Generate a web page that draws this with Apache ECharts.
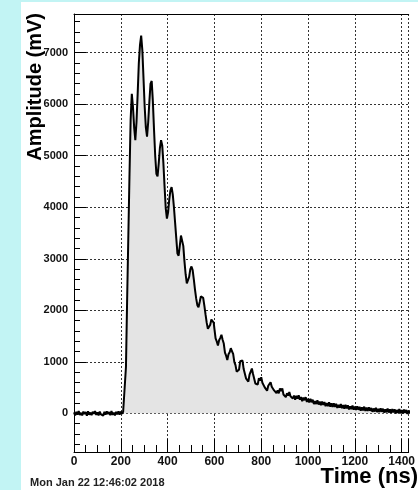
<!DOCTYPE html>
<html>
<head>
    <meta charset="utf-8">
    <title>Amplitude vs Time</title>
    <script type="text/javascript" src="https://cdn.jsdelivr.net/npm/echarts@6/dist/echarts.min.js"></script>
</head>
<style type="text/css">
    html, body {
        margin: 0;
        padding: 0;
        background: #c2f4f4;
    }
    #paper {
        position: absolute;
        left: 21px;
        top: 2px;
        width: 397px;
        height: 488px;
        background: #fff;
    }
    #chart {
        position: absolute;
        left: 0;
        top: 0;
        width: 418px;
        height: 490px;
    }
</style>
<body>
    <div id="paper"></div>
    <div id="chart"></div>

    <script type="text/javascript">
        // sample spacing in ns
        var sampleStep = 5;

        // flat noisy baseline before the pulse, 0..210 ns
        var baselineStart = 0;
        var baselineValues = [
            20, -40, 30, -25, 45, -30, 10, -40, 35, -15,
            25, -45, 40, -25, 15, -35, 30, -10, 45, -30,
            20, -40, 35, -20, 10, -45, 30, -25, 40, -15,
            25, -35, 45, -30, 15, -40, 30, -20, 40, -25,
            35, -10, 30
        ];

        // rise and ringing peaks, 217..597 ns
        var pulseStart = 217;
        var pulseValues = [
            60, 900, 2200, 3400, 4600, 5700, 6200, 5950, 5550, 5300,
            5650, 6200, 6800, 7150, 7330, 7050, 6500, 5950, 5550, 5370,
            5650, 6050, 6400, 6450, 6050, 5500, 5000, 4650, 4600, 4850,
            5150, 5300, 5200, 4850, 4400, 3980, 3780, 3900, 4150, 4330,
            4390, 4250, 4000, 3700, 3400, 3100, 3060, 3250, 3450, 3460,
            3250, 2950, 2700, 2520, 2500, 2650, 2800, 2850, 2780, 2600,
            2400, 2230, 2100, 2060, 2160, 2270, 2300, 2240, 2090, 1920,
            1760, 1640, 1620, 1720, 1820, 1840, 1760
        ];

        // decaying noisy tail, 600..1500 ns
        var tailStart = 600;
        var tailValues = [
            1640, 1455, 1395, 1315, 1420, 1465, 1525, 1430, 1355, 1180,
            1120, 1035, 1145, 1185, 1265, 1205, 1155, 1000, 935, 810,
            840, 845, 1010, 995, 1025, 860, 825, 680, 705, 615,
            750, 765, 870, 765, 745, 580, 585, 560, 685, 635,
            700, 595, 620, 505, 525, 440, 535, 510, 605, 515,
            550, 445, 480, 395, 445, 390, 485, 430, 485, 365,
            400, 315, 390, 345, 415, 330, 365, 290, 345, 265,
            340, 285, 350, 265, 315, 235, 305, 255, 315, 220,
            280, 210, 280, 215, 265, 180, 240, 180, 255, 170,
            230, 160, 230, 165, 220, 140, 200, 140, 215, 130,
            195, 125, 195, 125, 185, 105, 165, 110, 180, 100,
            160, 90, 165, 95, 155, 75, 135, 80, 150, 70,
            130, 65, 135, 70, 125, 50, 115, 55, 130, 45,
            110, 45, 115, 50, 105, 30, 95, 35, 110, 25,
            90, 25, 100, 30, 90, 15, 80, 20, 95, 15,
            80, 10, 85, 20, 80, 0, 65, 10, 85, 0,
            65, 0, 75, 10, 65, -10, 55, 0, 75, -5,
            60, -10, 65, 0, 60, -15, 45, -10, 65, -15,
            50
        ];

        var xTitle = 'Time (ns)';
        var yTitle = 'Amplitude (mV)';
        var stamp = 'Mon Jan 22 12:46:02 2018';

        function toPoints(start, values) {
            return values.map(function(v, i) {
                return [start + i * sampleStep, v];
            });
        }

        var points = []
            .concat(toPoints(baselineStart, baselineValues))
            .concat(toPoints(pulseStart, pulseValues))
            .concat(toPoints(tailStart, tailValues));

        var font = '"Liberation Sans", Arial, sans-serif';
        var gridDash = {
            color: '#333',
            width: 1,
            type: [2, 2]
        };
        function plain(v) {
            return String(v);
        }

        var chart = echarts.init(document.getElementById('chart'));

        var option = {
            animation: false,
            backgroundColor: 'transparent',
            grid: {
                left: 74,
                top: 14,
                right: 0,
                bottom: 38,
                show: false
            },
            xAxis: [{
                type: 'value',
                min: 0,
                max: 1430,
                interval: 200,
                axisLine: { show: true, onZero: false, lineStyle: { color: '#000' } },
                axisTick: { inside: true, length: 13, lineStyle: { color: '#000' } },
                minorTick: { show: true, splitNumber: 4, length: 7, lineStyle: { color: '#000' } },
                axisLabel: {
                    showMaxLabel: false,
                    hideOverlap: false,
                    margin: 4,
                    fontSize: 12,
                    fontWeight: 'bold',
                    fontFamily: font,
                    color: '#111',
                    formatter: plain
                },
                splitLine: { show: true, lineStyle: gridDash }
            }, {
                // top frame line only
                type: 'value',
                position: 'top',
                min: 0,
                max: 1430,
                axisLine: { show: true, onZero: false, lineStyle: { color: '#000' } },
                axisTick: { show: false },
                axisLabel: { show: false },
                splitLine: { show: false }
            }],
            yAxis: {
                type: 'value',
                min: -750,
                max: 7750,
                splitNumber: 8,
                axisLine: { show: true, lineStyle: { color: '#000' } },
                axisTick: { inside: true, length: 12, lineStyle: { color: '#000' } },
                minorTick: { show: true, splitNumber: 5, length: 6, lineStyle: { color: '#000' } },
                axisLabel: {
                    showMinLabel: false,
                    showMaxLabel: false,
                    margin: 6,
                    fontSize: 11,
                    fontWeight: 'bold',
                    fontFamily: font,
                    color: '#111',
                    formatter: plain
                },
                splitLine: { show: true, lineStyle: gridDash }
            },
            graphic: [{
                type: 'text',
                x: 35,
                y: 13,
                rotation: Math.PI / 2,
                style: {
                    text: yTitle,
                    font: 'bold 20px ' + font,
                    fill: '#000',
                    textAlign: 'right',
                    textVerticalAlign: 'middle',
                    align: 'right',
                    verticalAlign: 'middle'
                }
            }, {
                type: 'text',
                x: 418,
                y: 477,
                style: {
                    text: xTitle,
                    font: 'bold 22px ' + font,
                    fill: '#000',
                    textAlign: 'right',
                    textVerticalAlign: 'middle',
                    align: 'right',
                    verticalAlign: 'middle'
                }
            }, {
                type: 'text',
                x: 30,
                y: 483,
                style: {
                    text: stamp,
                    font: 'bold 11px ' + font,
                    fill: '#222',
                    textAlign: 'left',
                    textVerticalAlign: 'middle',
                    align: 'left',
                    verticalAlign: 'middle'
                }
            }],
            series: [{
                name: 'waveform',
                type: 'line',
                data: points,
                showSymbol: false,
                symbol: 'none',
                sampling: false,
                lineStyle: { color: '#000', width: 2 },
                areaStyle: { color: '#e4e4e4', opacity: 1 },
                z: 3
            }]
        };
        chart.setOption(option);
    </script>
</body>
</html>
